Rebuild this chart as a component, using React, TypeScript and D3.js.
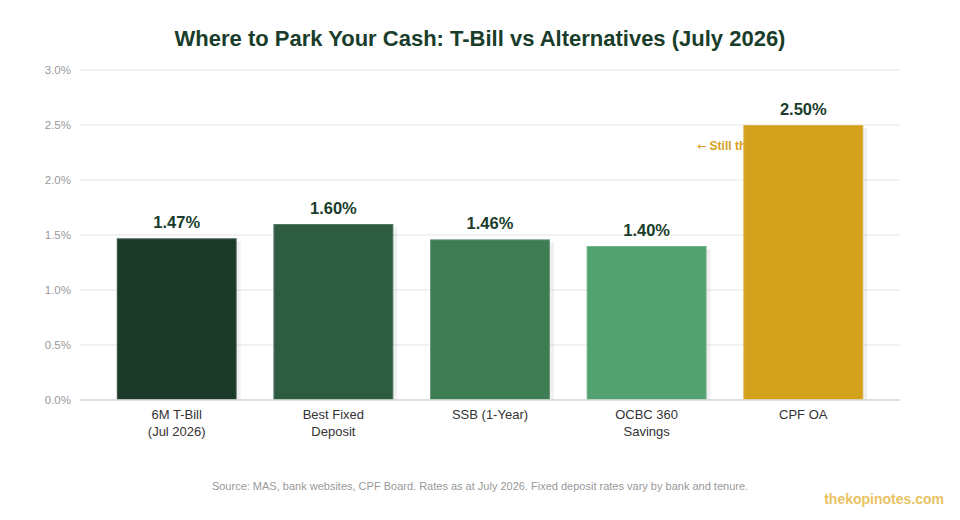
import React from "react";
import * as d3 from "d3";

const categories = ["6M T-Bill\n(Jul 2026)", "Best Fixed\nDeposit", "SSB (1-Year)", "OCBC 360\nSavings", "CPF OA"];
const rates = [1.47, 1.6, 1.46, 1.4, 2.5];
const barColors = ["#1c3a2a", "#2d5c40", "#3e7c54", "#52a170", "#d4a11d"];
const yTicks = [0, 0.5, 1.0, 1.5, 2.0, 2.5, 3.0];

const W = 960;
const H = 520;
const FONT = "'Liberation Sans', Arial, Helvetica, sans-serif";

export default function App() {
  const x = d3.scaleBand<number>().domain(d3.range(categories.length)).range([80, 900]).padding(0.235);
  const y = d3.scaleLinear().domain([0, 3]).range([400, 70]);

  return (
    <svg width={W} height={H} style={{ position: "absolute", left: 0, top: 0, background: "#fff" }} fontFamily={FONT}>
      <rect x={0} y={0} width={W} height={H} fill="#fff" />
      <text x={480} y={46} textAnchor="middle" fontSize={22} fontWeight="bold" fill="#1a3d2b">
        Where to Park Your Cash: T-Bill vs Alternatives (July 2026)
      </text>
      {yTicks.map((t) => (
        <g key={t}>
          <line x1={80} x2={900} y1={y(t)} y2={y(t)} stroke={t === 0 ? "#dddddd" : "#eeeeee"} strokeWidth={1.5} />
          <text x={71} y={y(t) + 4} textAnchor="end" fontSize={11.5} fill="#999">
            {d3.format(".1f")(t) + "%"}
          </text>
        </g>
      ))}
      <text x={697} y={y(2.5) + 25} fontSize={12} fontWeight="bold" fill="#d4a11d">
        <tspan fontFamily="'DejaVu Sans', sans-serif" fontWeight="normal" fontSize={11}>←</tspan>
        <tspan> Still the highest</tspan>
      </text>
      {rates.map((v, i) => {
        const bx = x(i)!;
        const bw = x.bandwidth();
        return (
          <g key={i}>
            <rect x={bx + 4} y={y(v) + 3} width={bw} height={400 - y(v) - 3} fill="#000" opacity={0.06} />
            <rect x={bx} y={y(v)} width={bw} height={400 - y(v)} fill={barColors[i]} />
            <rect x={bx + 0.5} y={y(v) + 0.5} width={bw - 1} height={400 - y(v) - 1} fill="none" stroke="#fff" strokeOpacity={0.18} strokeWidth={1} />
            <text x={bx + bw / 2} y={y(v) - 10} textAnchor="middle" fontSize={16.5} fontWeight="bold" fill="#1a3d2b">
              {v.toFixed(2) + "%"}
            </text>
            {categories[i].split("\n").map((line, k) => (
              <text key={k} x={bx + bw / 2} y={419 + k * 17} textAnchor="middle" fontSize={13} fill="#333">
                {line}
              </text>
            ))}
          </g>
        );
      })}
      <line x1={80} x2={900} y1={400} y2={400} stroke="#dddddd" strokeWidth={1.5} />
      <text x={480} y={490} textAnchor="middle" fontSize={11} fill="#999">
        Source: MAS, bank websites, CPF Board. Rates as at July 2026. Fixed deposit rates vary by bank and tenure.
      </text>
      <text x={944} y={504} textAnchor="end" fontSize={14} fontWeight="bold" fill="#e8c262">
        thekopinotes.com
      </text>
    </svg>
  );
}
